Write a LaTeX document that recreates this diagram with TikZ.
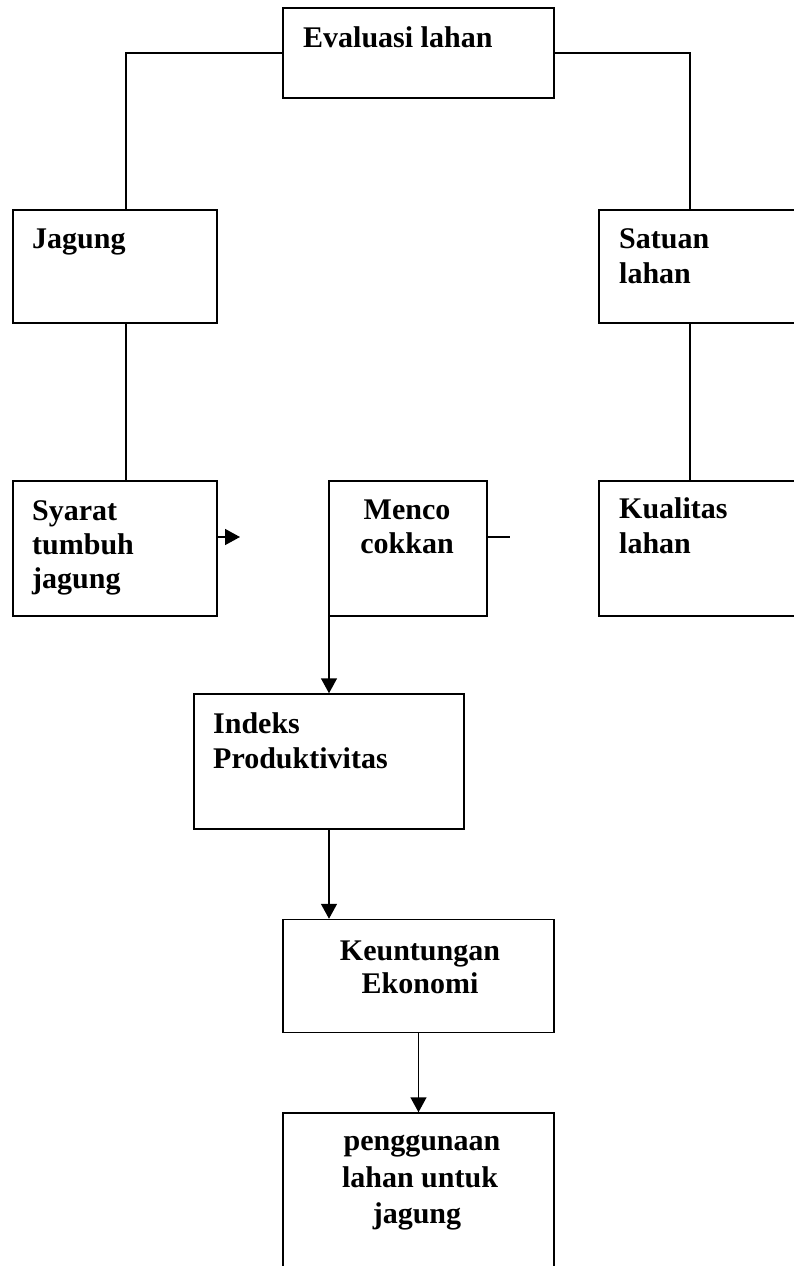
\documentclass[tikz,border=0pt]{standalone}
\usepackage{fontspec}
\setmainfont{Liberation Serif}
\usetikzlibrary{arrows.meta}
\begin{document}
\begin{tikzpicture}[x=1pt,y=-1pt,
  box/.style={draw,line width=1.5pt,rectangle,inner sep=0pt},
  lbl/.style={font=\fontsize{30}{34}\selectfont\bfseries,inner sep=0pt,anchor=base west},
  clbl/.style={font=\fontsize{30}{34}\selectfont\bfseries,inner sep=0pt,anchor=base,align=center},
  conn/.style={line width=1.5pt},
  arr/.style={line width=1.5pt,-{Triangle[length=15pt,width=16pt]}}]
\clip (0,0) rectangle (794,1266);
\fill[white] (0,0) rectangle (794,1266);
% boxes
\node[box,minimum width=271pt,minimum height=90pt] (eval) at (418.5,53) {};
\node[box,minimum width=204pt,minimum height=113pt] (jagung) at (115,266.5) {};
\node[box,minimum width=260pt,minimum height=113pt] (satuan) at (729,266.5) {};
\node[box,minimum width=204pt,minimum height=135pt] (syarat) at (115,548.5) {};
\node[box,minimum width=158pt,minimum height=135pt] (menco) at (408,548.5) {};
\node[box,minimum width=260pt,minimum height=135pt] (kualitas) at (729,548.5) {};
\node[box,minimum width=270pt,minimum height=135pt] (indeks) at (329,761.5) {};
\node[box,minimum width=271pt,minimum height=113pt] (untung) at (418.5,976) {};
\node[box,minimum width=271pt,minimum height=200pt] (guna) at (418.5,1213) {};
% texts
\node[lbl] (tEval) at (303,47) {Evaluasi lahan};
\node[lbl] (tJagung) at (32,248) {Jagung};
\node[lbl] (tSatuan) at (619,248) {Satuan};
\node[lbl] (tSatuan2) at (619,283) {lahan};
\node[lbl] (tSyarat) at (32,520) {Syarat};
\node[lbl] (tSyarat2) at (32,554) {tumbuh};
\node[lbl] (tSyarat3) at (32,588) {jagung};
\node[clbl] (tMenco) at (407,519) {Menco};
\node[clbl] (tMenco2) at (407,553) {cokkan};
\node[lbl] (tKual) at (619,518) {Kualitas};
\node[lbl] (tKual2) at (619,553) {lahan};
\node[lbl] (tIndeks) at (213,733) {Indeks};
\node[lbl] (tIndeks2) at (213,768) {Produktivitas};
\node[clbl] (tUntung) at (420,960) {Keuntungan};
\node[clbl] (tUntung2) at (420,993) {Ekonomi};
\node[clbl] (tGuna) at (422,1150) {penggunaan};
\node[clbl] (tGuna2) at (420,1187) {lahan untuk};
\node[clbl] (tGuna3) at (417,1223) {jagung};
% coordinates
\coordinate (jTop) at (126,210);
\coordinate (jBot) at (126,323);
\coordinate (sTop) at (126,481);
\coordinate (stTop) at (690,210);
\coordinate (stBot) at (690,323);
\coordinate (kTop) at (690,481);
\coordinate (syOut) at (217,537);
\coordinate (arrEnd) at (240,537);
\coordinate (mOut) at (487,537);
\coordinate (mEnd) at (510,537);
\coordinate (mStart) at (329,604);
% connectors
\draw[conn] (eval.west) -| (jTop);
\draw[conn] (eval.east) -| (stTop);
\draw[conn] (jBot) -- (sTop);
\draw[conn] (stBot) -- (kTop);
\draw[arr] (syOut) -- (arrEnd);
\draw[conn] (mOut) -- (mEnd);
\draw[arr] (mStart) -- (indeks.north);
\draw[arr] (indeks.south) -- (indeks.south |- untung.north);
\draw[arr] (untung.south) -- (guna.north);
\end{tikzpicture}
\end{document}
